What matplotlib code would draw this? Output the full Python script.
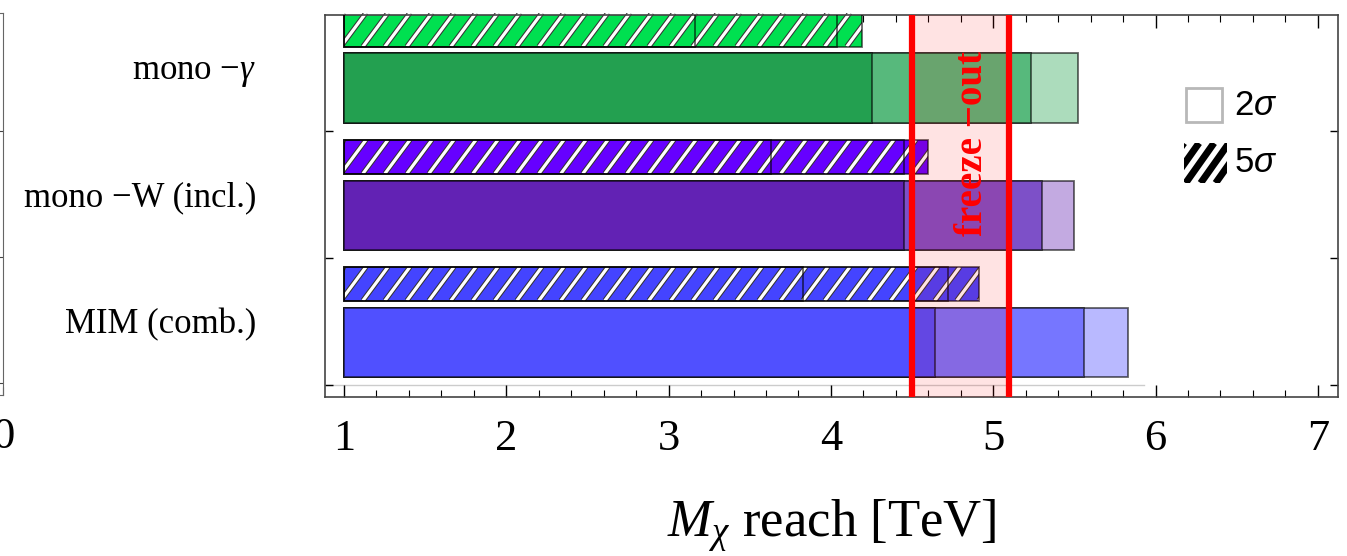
import numpy as np
import matplotlib
matplotlib.use("Agg")
import matplotlib.pyplot as plt
from matplotlib.patches import Rectangle
from matplotlib.collections import LineCollection
from matplotlib.transforms import blended_transform_factory

# reach values [TeV]: three nested estimates per channel
channels = ["MIM (comb.)", "mono \u2212W (incl.)", "mono \u2212$\\gamma$"]
reach_2sigma = [[4.64, 5.56, 5.83],
                [4.45, 5.30, 5.50],
                [4.25, 5.23, 5.52]]
reach_5sigma = [[3.83, 4.72, 4.91],
                [3.63, 4.45, 4.60],
                [3.16, 4.04, 4.19]]
bar_start = 1.0
freeze_out = (4.5, 5.1)

colors_2sigma = [["#5050FF", "#7676FF", "#B9B9FF"],
                 ["#6222B4", "#7D50C8", "#C3AAE1"],
                 ["#23A050", "#57B97C", "#ACDCBC"]]
colors_5sigma = ["#4444FF", "#6600FF", "#00E050"]

plt.rcParams["font.family"] = ["Liberation Serif", "DejaVu Serif"]
plt.rcParams["mathtext.fontset"] = "custom"
plt.rcParams["mathtext.rm"] = "Liberation Serif"
plt.rcParams["mathtext.it"] = "Liberation Serif:italic"
plt.rcParams["mathtext.bf"] = "Liberation Serif:bold"

EDGE = (0, 0, 0, 0.6)


def stripes(ax, x0, y0, w, h, step, lean, specs, transform, clip, z):
    """diagonal stripes over a rectangle, clipped to it"""
    xs = np.arange(x0 - lean, x0 + w + step, step)
    segs = [[(x, y0), (x + lean, y0 + h)] for x in xs]
    for col, lw in specs:
        lc = LineCollection(segs, colors=col, linewidths=lw,
                            transform=transform, zorder=z)
        ax.add_collection(lc, autolim=False)
        # after add_collection, otherwise the axes clip replaces it
        lc.set_clip_path(clip)


fig = plt.figure(figsize=(13.47, 5.56), dpi=100)

# neighbouring panel, only its right edge shows
axl = fig.add_axes([-0.3, 1 - 395 / 556, 0.3 + 3 / 1347, 382 / 556])
axl.set_xlim(-1, 0)
axl.set_ylim(0, 1)
axl.set_xticks([0])
axl.set_xticklabels(["0"], fontsize=32)
axl.set_yticks([0.031, 0.361, 0.691])
axl.set_yticklabels([])
axl.tick_params(axis="both", direction="in", right=True, left=False,
                length=6, pad=16, color="#444444")
for s in axl.spines.values():
    s.set_color("#666666")

ax = fig.add_axes([325 / 1347, 1 - 397 / 556, 1013 / 1347, 382 / 556])

solid_off, solid_h = 0.06, 0.55
hatch_off, hatch_h = 0.665, 0.265

for g in range(3):
    # 2 sigma bars: widest first so the nested ones sit on top
    for v, c in sorted(zip(reach_2sigma[g], colors_2sigma[g]), reverse=True):
        ax.add_patch(Rectangle((bar_start, g + solid_off), v - bar_start, solid_h,
                               facecolor=c, edgecolor=EDGE, lw=1.3, zorder=2))
    # 5 sigma hatched bars
    y0 = g + hatch_off
    vmax = max(reach_5sigma[g])
    face = Rectangle((bar_start, y0), vmax - bar_start, hatch_h,
                     facecolor=colors_5sigma[g], edgecolor="none", zorder=2)
    ax.add_patch(face)
    stripes(ax, bar_start, y0, vmax - bar_start, hatch_h, 0.1355, 0.154,
            [("#333333", 3.8), ("white", 2.3)], ax.transData, face, 2.5)
    for v in reach_5sigma[g]:
        ax.add_patch(Rectangle((bar_start, y0), v - bar_start, hatch_h,
                               facecolor="none", edgecolor=EDGE, lw=1.3, zorder=3))

# faint base line under the lowest bar
ax.plot([0.88, 5.93], [0, 0], color="#cccccc", lw=1, zorder=1)

# freeze-out band
ax.axvspan(freeze_out[0], freeze_out[1], color="red", alpha=0.11, lw=0, zorder=4)
for xv in freeze_out:
    ax.axvline(xv, color="red", lw=4.5, zorder=5)
ax.text(4.87, 1.90, "freeze \u2212out", rotation=90, color="red",
        fontsize=28, fontweight="bold", ha="center", va="center", zorder=6)

# channel labels to the left of the frame
lab_tr = blended_transform_factory(fig.transFigure, ax.transData)
for g, name in enumerate(channels):
    ax.text(256 / 1347, g + 0.41, name, transform=lab_tr, ha="right",
            va="baseline", fontsize=25)

# legend drawn by hand
ax.add_patch(Rectangle((0.850, 0.720), 0.035, 0.090, transform=ax.transAxes,
                       facecolor="white", edgecolor="#b8b8b8", lw=2, zorder=7))
leg5 = Rectangle((0.848, 0.560), 0.042, 0.105, transform=ax.transAxes,
                 facecolor="white", edgecolor="none", zorder=7)
ax.add_patch(leg5)
stripes(ax, 0.848, 0.560, 0.042, 0.105, 0.0148, 0.028,
        [("black", 5.0)], ax.transAxes, leg5, 8)
for yy, n in [(0.764, "2"), (0.613, "5")]:
    ax.text(0.898, yy, n, transform=ax.transAxes, fontsize=25,
            family="Liberation Sans", va="center", zorder=9)
    ax.text(0.917, yy, "\u03c3", transform=ax.transAxes, fontsize=25,
            family="Liberation Sans", style="italic", va="center", zorder=9)

ax.set_xlim(0.883, 7.124)
ax.set_ylim(-0.094, 2.913)
ax.set_xticks(np.arange(1, 8))
ax.set_xticks(np.arange(1, 7.01, 0.2), minor=True)
ax.set_xticklabels([str(i) for i in range(1, 8)], fontsize=32)
ax.set_yticks([0, 1, 2])
ax.set_yticklabels([])
ax.tick_params(axis="x", which="major", direction="in", top=True, length=9,
               width=1, pad=16)
ax.tick_params(axis="x", which="minor", direction="in", top=True, length=5,
               width=0.8)
ax.tick_params(axis="y", direction="in", right=True, length=6, width=1)
for s in ax.spines.values():
    s.set_color("#444444")
    s.set_linewidth(1.2)

ax.set_xlabel(r"$M_\chi$ reach [TeV]", fontsize=38)
ax.xaxis.set_label_coords(0.5, -0.262)

fig.savefig("out.png", dpi=100)
